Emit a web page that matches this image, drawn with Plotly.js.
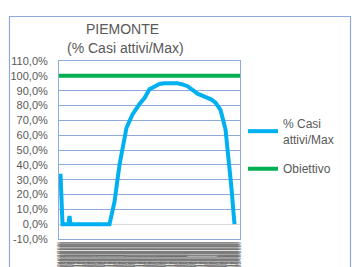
<!DOCTYPE html>
<html><head><meta charset="utf-8">
<script src="https://cdn.plot.ly/plotly-3.0.1.min.js"></script>
<style>html,body{margin:0;padding:0;background:#fff}#c{width:357px;height:267px}</style>
</head><body><div id="c"></div>
<script>
// Data (day offsets from start date, value in %)
var startDate = '2020-02-24';
var days   = [1, 3, 9, 10, 11, 50, 55, 60, 67, 73, 80, 85, 90, 95, 100, 105, 112, 118, 123, 128, 133, 138, 145, 152, 156, 161, 166, 169, 172, 175];
var values = [34, 0, 0, 5.5, 0, 0, 15, 40, 65, 74, 81, 85, 91, 93, 94.5, 95, 95.3, 95, 94.2, 93, 90.5, 88, 86, 84, 82, 77, 64, 46, 24, 0];
var targetValue = 100;
var totalDays = 180;
var yTickVals = [-10,0,10,20,30,40,50,60,70,80,90,100,110];
var yTickText = ['-10,0%','0,0%','10,0%','20,0%','30,0%','40,0%','50,0%','60,0%','70,0%','80,0%','90,0%','100,0%','110,0%'];
var titleLines = ['PIEMONTE', '(% Casi attivi/Max)'];

function dayToDate(d){
  var t = new Date(startDate + 'T00:00:00Z').getTime() + d*86400000;
  return new Date(t).toISOString().slice(0,19).replace('T',' ');
}
var xs = days.map(dayToDate);
var xStart = dayToDate(-0.5), xEnd = dayToDate(totalDays + 0.5);

var traces = [
  {x: xs, y: values, type:'scatter', mode:'lines', name:'% Casi<br>attivi/Max', legendgroup:'a',
   line:{color:'#00B0F0', width:4, shape:'linear'}},
  {x: [xStart, xEnd], y: [targetValue, targetValue], type:'scatter', mode:'lines', name:'Obiettivo', legendgroup:'b',
   line:{color:'#00B050', width:4}}
];
var F = 'Liberation Sans, Arial, sans-serif';
var layout = {
  width:357, height:267,
  margin:{l:59, r:117, t:61, b:28},
  paper_bgcolor:'#fff', plot_bgcolor:'#fff',
  showlegend:true,
  font:{family:F, color:'#595959', size:11},
  annotations:[
    {text:titleLines[0], xref:'paper', yref:'paper', x:(122-59)/181, y:(239-29)/178, xanchor:'center', yanchor:'middle',
     showarrow:false, font:{family:F, size:14, color:'#595959'}},
    {text:titleLines[1], xref:'paper', yref:'paper', x:(125-59)/181, y:(239-48)/178, xanchor:'center', yanchor:'middle',
     showarrow:false, font:{family:F, size:14, color:'#595959'}}
  ],
  xaxis:{type:'date', range:[xStart, xEnd], tickformat:'%d/%m/%Y', dtick:86400000,
         tick0:dayToDate(0), tickangle:-90, tickfont:{size:5, color:'#6f6f6f'}, ticks:'',
         showgrid:false, zeroline:false, showline:true, linecolor:'#8EA9DB', mirror:true, fixedrange:true},
  yaxis:{range:[-10,110], tickvals:yTickVals, ticktext:yTickText, tickfont:{size:11, color:'#595959'},
         ticklabelstandoff:8,
         showgrid:true, gridcolor:'#8EA9DB', gridwidth:1, zeroline:true, zerolinecolor:'#D9D9D9', zerolinewidth:1,
         showline:true, linecolor:'#8EA9DB', mirror:true, ticks:'', fixedrange:true},
  legend:{x:1 + 3/181, xanchor:'left', y:0.73, yanchor:'top', font:{family:F, size:12, color:'#595959'},
          itemwidth:30, tracegroupgap:11, traceorder:'grouped', bgcolor:'rgba(0,0,0,0)'},
  shapes:[{type:'rect', xref:'paper', yref:'paper', x0:(9.5-59)/181, x1:(350.5-59)/181,
           y0:-0.3, y1:(239-16.5)/178, line:{color:'#8EA9DB', width:1.2}, fillcolor:'rgba(0,0,0,0)', layer:'below'}]
};
Plotly.newPlot('c', traces, layout, {staticPlot:true, displayModeBar:false});
</script></body></html>
